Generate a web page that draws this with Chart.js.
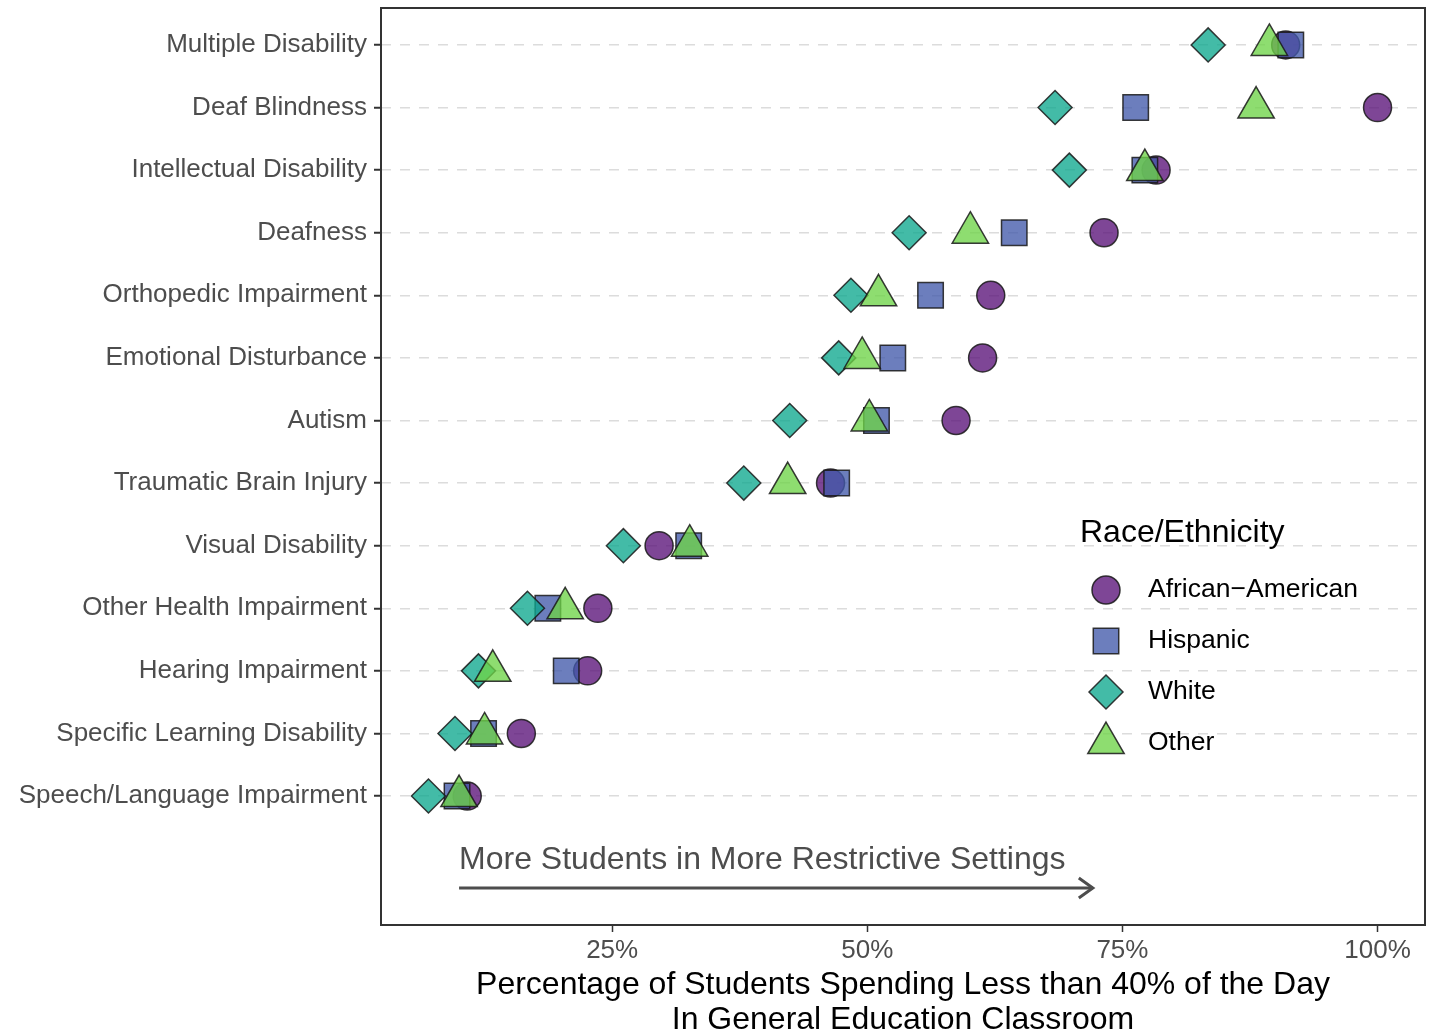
<!DOCTYPE html>
<html>
<head>
<meta charset="utf-8">
<script src="https://cdn.jsdelivr.net/npm/chart.js@4.4.1/dist/chart.umd.min.js"></script>
<style>
  html, body { margin: 0; padding: 0; background: #ffffff; }
  #wrap { width: 1432px; height: 1035px; position: relative; }
</style>
</head>
<body>
<div id="wrap"><canvas id="c" width="1432" height="1035"></canvas></div>
<script>
// Categories, top to bottom
const categories = [
  'Multiple Disability', 'Deaf Blindness', 'Intellectual Disability', 'Deafness',
  'Orthopedic Impairment', 'Emotional Disturbance', 'Autism', 'Traumatic Brain Injury',
  'Visual Disability', 'Other Health Impairment', 'Hearing Impairment',
  'Specific Learning Disability', 'Speech/Language Impairment'
];
// Percent of students spending < 40% of the day in general education classroom
const africanAmerican = [91.0, 100.0, 78.3, 73.2, 62.1, 61.3, 58.7, 46.4, 29.6, 23.6, 22.6, 16.1, 10.8];
const hispanic        = [91.5, 76.3, 77.2, 64.4, 56.2, 52.5, 50.9, 47.0, 32.5, 18.7, 20.5, 12.4, 9.8];
const white           = [83.4, 68.4, 69.8, 54.1, 48.4, 47.2, 42.4, 37.9, 26.1, 16.7, 11.9, 9.6, 7.0];
const other           = [89.4, 88.1, 77.2, 60.1, 51.1, 49.5, 50.2, 42.2, 32.6, 20.4, 13.3, 12.5, 10.0];
const seriesNames = ['African\u2212American', 'Hispanic', 'White', 'Other'];
const xTickValues = [25, 50, 75, 100];
const annotationText = 'More Students in More Restrictive Settings';
const legendTitle = 'Race/Ethnicity';
const xTitle = ['Percentage of Students Spending Less than 40% of the Day', 'In General Education Classroom'];

const N = categories.length;
const toPoints = arr => arr.map((v, i) => ({ x: v, y: N - i }));
const labelFor = v => { const i = N - Math.round(v); return (i >= 0 && i < N && Math.abs(v - Math.round(v)) < 1e-6) ? categories[i] : ''; };

const styles = [
  { style: 'circle',   radius: 14, color: 'rgba(90,18,120,0.78)',  order: 3 },
  { style: 'rect',     radius: 18, color: 'rgba(66,90,170,0.78)',  order: 2 },
  { style: 'rectRot',  radius: 17, color: 'rgba(14,168,142,0.78)', order: 1 },
  { style: 'triangle', radius: 21, color: 'rgba(110,212,72,0.78)', order: 0 }
];
const seriesData = [africanAmerican, hispanic, white, other];

const datasets = seriesData.map((arr, k) => ({
  label: seriesNames[k],
  data: toPoints(arr),
  pointStyle: styles[k].style,
  pointRadius: styles[k].radius,
  backgroundColor: styles[k].color,
  borderColor: 'rgba(25,25,25,0.85)',
  borderWidth: 1.5,
  order: styles[k].order,
  showLine: false
}));

const FONT = '"Liberation Sans", Arial, sans-serif';

const zeroPad = s => { s.paddingLeft = 0; s.paddingRight = 0; s.paddingTop = 0; s.paddingBottom = 0; };

const frameAndAnnotation = {
  id: 'frameAndAnnotation',
  afterDatasetsDraw(chart) {
    const { ctx, chartArea: a, scales: { x, y } } = chart;
    ctx.save();
    // annotation text
    ctx.fillStyle = '#4d4d4d';
    ctx.font = '32px ' + FONT;
    ctx.textAlign = 'left';
    ctx.textBaseline = 'middle';
    ctx.fillText(annotationText, x.getPixelForValue(10), y.getPixelForValue(-0.02));
    // arrow
    const x0 = x.getPixelForValue(10), x1 = x.getPixelForValue(72.1), ya = y.getPixelForValue(-0.47);
    ctx.strokeStyle = '#4d4d4d';
    ctx.lineWidth = 3;
    ctx.lineCap = 'butt';
    ctx.beginPath(); ctx.moveTo(x0, ya); ctx.lineTo(x1, ya); ctx.stroke();
    ctx.lineJoin = 'miter';
    ctx.beginPath(); ctx.moveTo(x1 - 14, ya - 10); ctx.lineTo(x1, ya); ctx.lineTo(x1 - 14, ya + 10); ctx.stroke();
    // frame
    ctx.strokeStyle = '#333333';
    ctx.lineWidth = 2;
    ctx.strokeRect(a.left, a.top, a.right - a.left, a.bottom - a.top);
    ctx.restore();
  },
  afterDraw(chart) {
    const { ctx } = chart;
    ctx.save();
    ctx.fillStyle = '#000000';
    ctx.textAlign = 'left';
    ctx.textBaseline = 'middle';
    ctx.font = '32px ' + FONT;
    ctx.fillText(legendTitle, 1080, 533);
    ctx.font = '26.5px ' + FONT;
    chart.data.datasets.forEach((ds, k) => {
      const cy = 590 + k * 51;
      ctx.fillStyle = ds.backgroundColor;
      ctx.strokeStyle = ds.borderColor;
      ctx.lineWidth = ds.borderWidth;
      Chart.helpers.drawPoint(ctx, { pointStyle: ds.pointStyle, radius: ds.pointRadius, rotation: 0, borderWidth: ds.borderWidth }, 1106, cy);
      ctx.fillStyle = '#000000';
      ctx.fillText(ds.label, 1148, cy);
    });
    ctx.restore();
  }
};

new Chart(document.getElementById('c'), {
  type: 'scatter',
  data: { datasets },
  options: {
    responsive: false,
    animation: false,
    events: [],
    layout: { autoPadding: false, padding: { top: 8, right: 7, left: 0, bottom: 0 } },
    plugins: { legend: { display: false }, tooltip: { enabled: false } },
    scales: {
      x: {
        type: 'linear',
        min: 2.35,
        max: 104.65,
        afterBuildTicks: s => { s.ticks = xTickValues.map(v => ({ value: v })); },
        afterFit: s => { s.height = 110; zeroPad(s); },
        grid: { drawOnChartArea: false, drawTicks: true, tickLength: 7, tickColor: '#333333', tickWidth: 1.5 },
        border: { display: false },
        ticks: { color: '#4d4d4d', font: { family: FONT, size: 26 }, padding: 3, callback: v => v + '%', maxRotation: 0 },
        title: { display: true, text: xTitle, color: '#000000', font: { family: FONT, size: 32, lineHeight: 1.07 }, padding: { top: 0, bottom: -2 } }
      },
      y: {
        type: 'linear',
        min: -1.06,
        max: 13.59,
        afterBuildTicks: s => { s.ticks = categories.map((c, i) => ({ value: N - i })); },
        afterFit: s => { s.width = 381; zeroPad(s); },
        grid: { drawOnChartArea: true, drawTicks: true, tickLength: 7, color: '#dcdcdc', lineWidth: 1.5, tickColor: '#333333', tickWidth: 2 },
        border: { display: false, dash: [10, 9] },
        ticks: { color: '#4d4d4d', font: { family: FONT, size: 26 }, padding: 7, callback: v => labelFor(v), autoSkip: false }
      }
    }
  },
  plugins: [frameAndAnnotation]
});
</script>
</body>
</html>
